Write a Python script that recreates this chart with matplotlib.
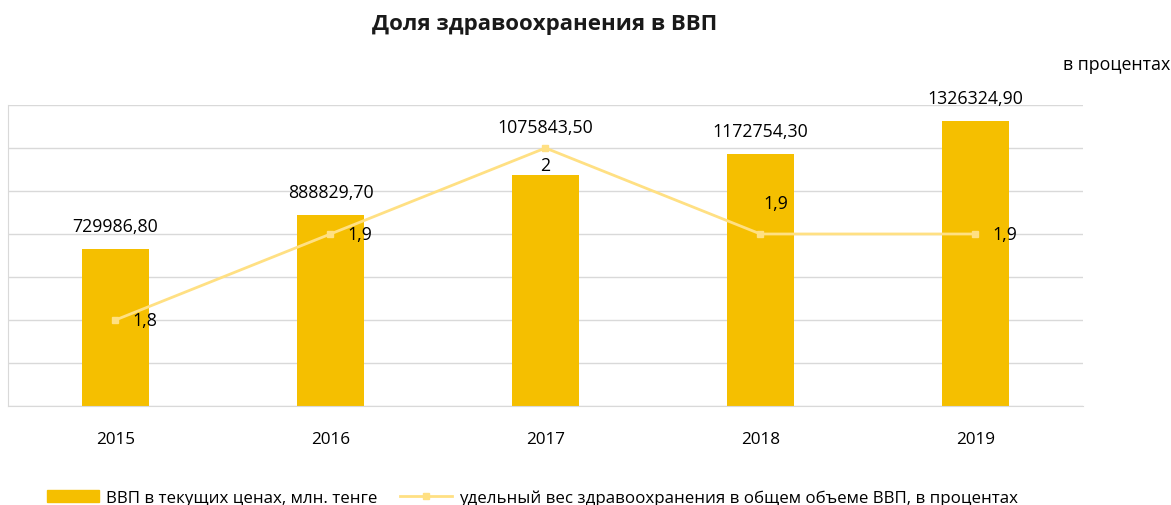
import matplotlib.pyplot as plt
from matplotlib.lines import Line2D
from matplotlib.patches import Patch

plt.rcParams['font.family'] = ['Open Sans', 'DejaVu Sans']

years = ["2015", "2016", "2017", "2018", "2019"]
gdp = [729986.80, 888829.70, 1075843.50, 1172754.30, 1326324.90]
gdp_labels = ["729986,80", "888829,70", "1075843,50", "1172754,30", "1326324,90"]
share = [1.8, 1.9, 2.0, 1.9, 1.9]
share_labels = ["1,8", "1,9", "2", "1,9", "1,9"]

BAR_COLOR = "#F5BF00"
LINE_COLOR = "#FFE083"
GRID_COLOR = "#D9D9D9"

fig = plt.figure(figsize=(11.71, 5.06), dpi=100)
ax = fig.add_axes([0.0068, 0.1957, 0.918, 0.5948])
x = list(range(len(years)))

ax.bar(x, gdp, width=0.31, color=BAR_COLOR, zorder=2)
ax.set_xlim(-0.5, len(years) - 0.5)
ax.set_ylim(0, 1400000)
ax.set_yticks(range(0, 1400001, 200000))
ax.set_yticklabels([])
ax.tick_params(axis="y", length=0)
ax.tick_params(axis="x", length=0, pad=18, labelsize=12.3)
ax.set_xticks(x)
ax.set_xticklabels(years)
ax.grid(axis="y", color=GRID_COLOR, linewidth=1, zorder=0)
for s in ["top", "right"]:
    ax.spines[s].set_visible(False)
for s in ["left", "bottom"]:
    ax.spines[s].set_color(GRID_COLOR)

# bar labels; 2017 one sits higher so the line marker stays clear
bar_offs = [10, 10, 28, 10, 10]
for xi, v, lab, dy in zip(x, gdp, gdp_labels, bar_offs):
    ax.annotate(lab, (xi, v), xytext=(0, dy), textcoords="offset points",
                ha="center", va="bottom", fontsize=12.8)

ax2 = ax.twinx()
ax2.set_ylim(1.7, 2.05)
ax2.axis("off")
ax2.plot(x, share, color=LINE_COLOR, linewidth=2, marker="s", markersize=5,
         zorder=3)

# label offsets (points) for the share series
offs = [(12, 0, "left", "center"), (12, 0, "left", "center"),
        (0, -6, "center", "top"), (2, 22, "left", "center"),
        (12, 0, "left", "center")]
for xi, v, lab, (dx, dy, ha, va) in zip(x, share, share_labels, offs):
    ax2.annotate(lab, (xi, v), xytext=(dx, dy), textcoords="offset points",
                 ha=ha, va=va, fontsize=12.8)

fig.text(0.4654, 0.951, "Доля здравоохранения в ВВП", ha="center", va="center",
         fontsize=16, fontweight="bold", color="#1a1a1a")
fig.text(0.999, 0.872, "в процентах", ha="right", va="center", fontsize=12.8)

handles = [Patch(color=BAR_COLOR),
           Line2D([0], [0], color=LINE_COLOR, linewidth=2, marker="s",
                  markersize=5)]
labels = ["ВВП в текущих ценах, млн. тенге",
          "удельный вес здравоохранения в общем объеме ВВП, в процентах"]
fig.legend(handles, labels, loc="center left", bbox_to_anchor=(0.027, 0.014),
           ncol=2, frameon=False, fontsize=12.2, handlelength=3.1,
           columnspacing=1.3, handletextpad=0.4)

fig.savefig("out.png", dpi=100)
